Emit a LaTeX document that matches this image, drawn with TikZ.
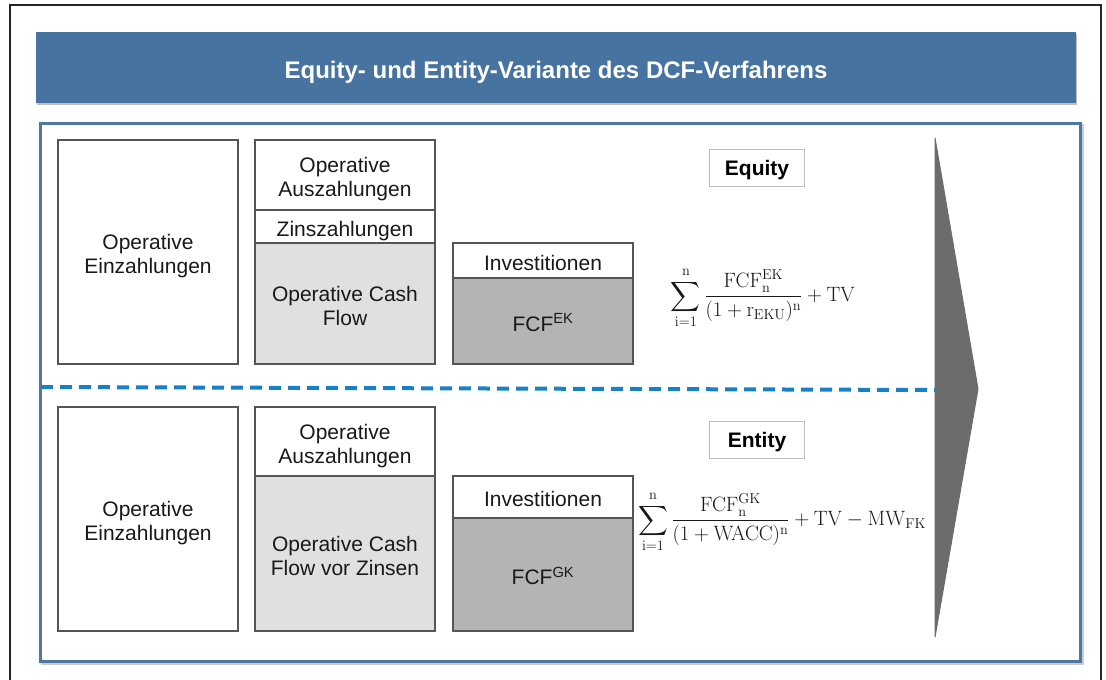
\documentclass[tikz,border=0pt]{standalone}
\usepackage{amsmath}
\usepackage[no-math]{fontspec}
\setmainfont{Liberation Sans}
\usetikzlibrary{positioning}

\definecolor{bannerblue}{RGB}{70,115,160}
\definecolor{frameblue}{RGB}{78,120,162}
\definecolor{dashblue}{RGB}{24,128,196}
\definecolor{arrowgray}{RGB}{108,108,108}
\definecolor{boxline}{RGB}{85,85,85}
\definecolor{lightfill}{RGB}{224,224,224}
\definecolor{darkfill}{RGB}{180,180,180}
\definecolor{labelline}{RGB}{190,190,190}
\definecolor{textgray}{RGB}{25,25,25}

\newcommand{\cellfont}{\fontsize{21}{24}\selectfont}
% centred lines, sitting a little low like the slide text
\newcommand{\cell}[2][5pt]{%
    \raisebox{-#1}[\height][\depth]{\begin{tabular}{@{}c@{}}#2\end{tabular}}}

\begin{document}
\begin{tikzpicture}[x=1pt,y=-1pt,
    box/.style={draw=boxline, line width=1.2pt, inner sep=0pt,
        outer sep=0pt, minimum width=180pt, text=textgray, font=\cellfont},
    tag/.style={draw=labelline, line width=1pt, fill=white, inner sep=0pt,
        minimum width=95pt, minimum height=37pt, font=\cellfont\bfseries},
    formula/.style={inner sep=0pt, text=textgray, font=\fontsize{20}{24}\selectfont}]

    % page and outer frame
    \clip (0,0) rectangle (1106,680);
    \useasboundingbox (0,0) rectangle (1106,680);
    \draw[line width=1.5pt, black!85] (10,5) rectangle (1101,700);

    % title bar
    \fill[black!25] (37,34) rectangle (1077,105);
    \node[fill=bannerblue, minimum width=1040pt, minimum height=71pt, inner sep=0pt,
        text=white, font=\fontsize{24}{28}\selectfont\bfseries] (title) at (556,67.5)
        {\raisebox{-5pt}[\height][\depth]{Equity- und Entity-Variante des DCF-Verfahrens}};

    % content frame
    \draw[line width=3pt, black!20] (42,125) rectangle (1082,663);
    \draw[line width=3pt, frameblue, fill=white] (40,123) rectangle (1080,661);

    % arrow on the right
    \fill[arrowgray, draw=arrowgray, line width=1pt, line join=round]
        (935,138) -- (978,389) -- (935,637) -- cycle;

    % divider between the two variants
    \coordinate (divL) at (41,387);
    \coordinate (divR) at (935,390);
    \draw[dashblue, line width=4pt, dash pattern=on 12pt off 7pt] (divL) -- (divR);

    % equity variant
    \node[box, minimum height=224pt] (einTop) at (148,252) {\cell{Operative\\Einzahlungen}};
    \node[box, minimum height=70pt] (auszTop) at (345,175) {\cell{Operative\\Auszahlungen}};
    \node[box, minimum height=33pt, below=0pt of auszTop] (zinsTop) {\cell{Zinszahlungen}};
    \node[box, fill=lightfill, minimum height=121pt, below=0pt of zinsTop] (ocfTop)
        {\cell{Operative Cash\\Flow}};
    \node[box, minimum height=35pt] (invTop) at (543,260.5) {\cell{Investitionen}};
    \node[box, fill=darkfill, minimum height=86pt, below=0pt of invTop] (fcfTop)
        {\cell{FCF\textsuperscript{EK}}};
    \node[tag] (equity) at (757,167.5) {\cell[3pt]{Equity}};
    \node[formula] (dcfTop) at (763,298)
        {$\displaystyle\sum_{\mathrm{i}=1}^{\mathrm{n}}
        \frac{\mathrm{FCF}_{\mathrm{n}}^{\mathrm{EK}}}{(1+\mathrm{r}_{\mathrm{EKU}})^{\mathrm{n}}}
        +\mathrm{TV}$};

    % entity variant
    \node[box, minimum height=224pt] (einBot) at (148,519) {\cell{Operative\\Einzahlungen}};
    \node[box, minimum height=69pt] (auszBot) at (345,441.5) {\cell{Operative\\Auszahlungen}};
    \node[box, fill=lightfill, minimum height=155pt, below=0pt of auszBot] (ocfBot)
        {\cell{Operative Cash\\Flow vor Zinsen}};
    \node[box, minimum height=42pt] (invBot) at (543,497) {\cell{Investitionen}};
    \node[box, fill=darkfill, minimum height=113pt, below=0pt of invBot] (fcfBot)
        {\cell{FCF\textsuperscript{GK}}};
    \node[tag] (entity) at (757,440) {\cell[3pt]{Entity}};
    \node[formula] (dcfBot) at (782,522)
        {$\displaystyle\sum_{\mathrm{i}=1}^{\mathrm{n}}
        \frac{\mathrm{FCF}_{\mathrm{n}}^{\mathrm{GK}}}{(1+\mathrm{WACC})^{\mathrm{n}}}
        +\mathrm{TV}-\mathrm{MW}_{\mathrm{FK}}$};
\end{tikzpicture}
\end{document}
